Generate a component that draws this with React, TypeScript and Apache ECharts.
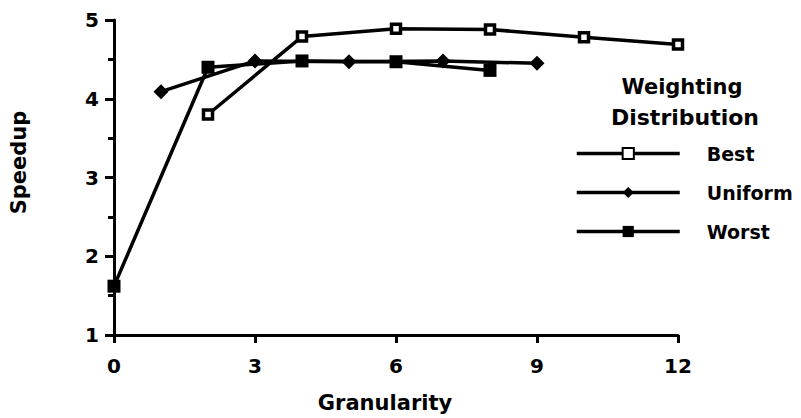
import React, { useEffect, useRef } from "react";
import * as echarts from "echarts";

const bestX = [2, 4, 6, 8, 10, 12];
const bestY = [3.8, 4.79, 4.89, 4.88, 4.78, 4.69];
const uniformX = [1, 3, 5, 7, 9];
const uniformY = [4.09, 4.48, 4.47, 4.48, 4.45];
const worstX = [0, 2, 4, 6, 8];
const worstY = [1.62, 4.4, 4.48, 4.47, 4.36];
const xTicks = [0, 3, 6, 9, 12];
const yTicks = [1, 2, 3, 4, 5];

const FONT = "'DejaVu Sans', 'Liberation Sans', Arial, sans-serif";

export default function App() {
  const ref = useRef<HTMLDivElement>(null);
  useEffect(() => {
    if (!ref.current) return;
    const chart = echarts.init(ref.current, null, { renderer: "svg" });
    const pair = (xs: number[], ys: number[]) => xs.map((x, i) => [x, ys[i]]);
    const lineStyle = { color: "#000", width: 3.5 };
    chart.setOption({
      animation: false,
      backgroundColor: "#fff",
      grid: { left: 113, right: 123, top: 20, bottom: 76, containLabel: false },
      xAxis: {
        type: "value",
        min: 0,
        max: 12,
        interval: 3,
        name: "Granularity",
        nameLocation: "middle",
        nameGap: 57,
        nameTextStyle: {
          fontFamily: FONT,
          fontWeight: "bold",
          fontSize: 21,
          color: "#000",
          padding: [0, 22, 0, 0],
        },
        axisLine: { show: true, onZero: false, lineStyle: { color: "#000", width: 3 } },
        axisTick: { show: true, length: 8, lineStyle: { color: "#000", width: 3 } },
        axisLabel: {
          margin: 21,
          fontFamily: FONT,
          fontWeight: "bold",
          fontSize: 20,
          color: "#000",
          formatter: (v: number) => (xTicks.includes(v) ? String(v) : ""),
        },
        splitLine: { show: false },
      },
      yAxis: {
        type: "value",
        min: 1,
        max: 5,
        interval: 1,
        name: "Speedup",
        nameLocation: "middle",
        nameGap: 85,
        nameRotate: 90,
        nameTextStyle: {
          fontFamily: FONT,
          fontWeight: "bold",
          fontSize: 21,
          color: "#000",
          padding: [0, 0, 0, 30],
        },
        axisLine: { show: true, onZero: false, lineStyle: { color: "#000", width: 3 } },
        axisTick: { show: true, length: 9, lineStyle: { color: "#000", width: 3 } },
        minorTick: { show: true, splitNumber: 2, length: 6, lineStyle: { color: "#000", width: 3 } },
        axisLabel: {
          margin: 15,
          fontFamily: FONT,
          fontWeight: "bold",
          fontSize: 20,
          color: "#000",
          formatter: (v: number) => (yTicks.includes(v) ? String(v) : ""),
        },
        splitLine: { show: false },
      },
      legend: {
        orient: "vertical",
        left: 570,
        top: 139,
        itemWidth: 103,
        itemHeight: 14,
        itemGap: 20,
        lineStyle: { width: 3.5, color: "#000" },
        textStyle: {
          fontFamily: FONT,
          fontWeight: "bold",
          fontSize: 19,
          color: "#000",
          padding: [0, 0, 0, 22],
        },
        data: ["Best", "Uniform", "Worst"],
      },
      graphic: [
        {
          type: "text",
          x: 682,
          y: 87,
          style: {
            text: "Weighting",
            fontFamily: FONT,
            fontWeight: "bold",
            fontSize: 21,
            fill: "#000",
            align: "center",
            verticalAlign: "middle",
          },
        },
        {
          type: "text",
          x: 685,
          y: 117,
          style: {
            text: "Distribution",
            fontFamily: FONT,
            fontWeight: "bold",
            fontSize: 22,
            fill: "#000",
            align: "center",
            verticalAlign: "middle",
          },
        },
      ],
      series: [
        {
          name: "Best",
          type: "line",
          data: pair(bestX, bestY),
          symbol: "rect",
          symbolSize: 9,
          lineStyle,
          itemStyle: { color: "#fff", borderColor: "#000", borderWidth: 3.5 },
        },
        {
          name: "Uniform",
          type: "line",
          data: pair(uniformX, uniformY),
          symbol: "diamond",
          symbolSize: 15,
          lineStyle,
          itemStyle: { color: "#000", borderColor: "#000", borderWidth: 0 },
        },
        {
          name: "Worst",
          type: "line",
          data: pair(worstX, worstY),
          symbol: "rect",
          symbolSize: 13,
          lineStyle,
          itemStyle: { color: "#000", borderColor: "#000", borderWidth: 0 },
        },
      ],
    });
    return () => chart.dispose();
  }, []);
  return <div ref={ref} style={{ width: 801, height: 418, position: "absolute", left: 0, top: 0 }} />;
}
